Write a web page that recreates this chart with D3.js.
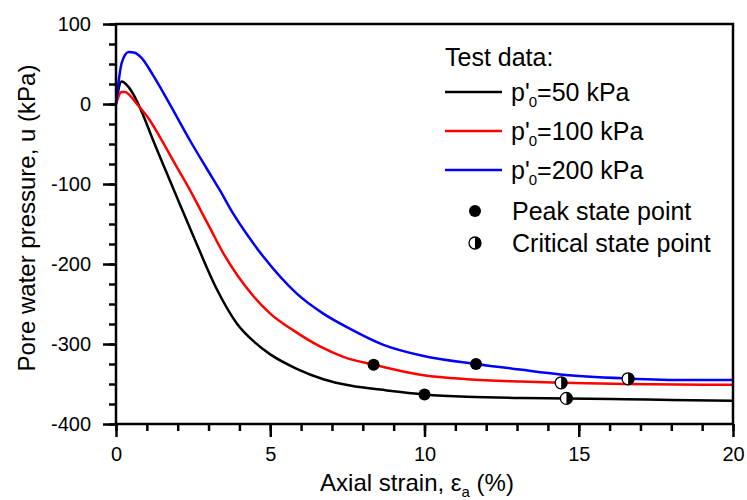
<!DOCTYPE html>
<html><head><meta charset="utf-8">
<script src="https://cdn.jsdelivr.net/npm/d3@7"></script>
<style>body{margin:0;background:#fff}svg{display:block;font-family:Arial,"Liberation Sans",sans-serif}</style>
</head><body><svg id="c" width="747" height="500"></svg>
<script>
const seriesNames = ["50", "100", "200"];
const seriesColors = ["#000000", "#ff0000", "#0000ff"];
const strain50 = [0,0.18,0.39,0.66,0.88,1.2,1.74,2.1,2.55,3.26,3.91,4.5,5.0,5.86,6.72,7.59,8.78,10.0,11.38,13.1,14.6,16.5,18,20];
const pwp50 = [0,28,22,5,-14,-45,-95,-128,-169,-231,-274,-298,-313,-331,-344,-352,-358,-363,-366,-367.5,-368,-369,-370,-371];
const strain100 = [0,0.18,0.3,0.44,0.66,1.09,1.42,1.96,2.39,2.72,3.1,3.47,3.95,4.45,5.0,5.75,6.61,7.37,8.35,9.97,11.38,13.1,14.43,16.5,20];
const pwp100 = [0,15,15,11,1,-20,-41,-78,-107,-131,-159,-186,-215,-240,-262,-283,-303,-316,-326,-339,-344,-347,-348.5,-350,-351];
const strain200 = [0,0.19,0.41,0.61,0.82,1.2,1.55,1.9,2.39,2.93,3.37,3.8,4.3,4.8,5.86,6.72,7.59,8.67,9.97,11.67,13.1,14.4,16.6,18.5,20];
const pwp200 = [0,52,65,64,58,36,13,-11,-45,-80,-108,-137,-166,-192,-237,-262,-281,-301,-315,-325,-332,-338,-343,-345,-345];
const peakStrain = [10.0, 8.35, 11.67];
const peakPwp = [-363, -326, -325];
const critStrain = [14.6, 14.43, 16.6];
const critPwp = [-368, -348.5, -343.5];
const xTicks = [0,5,10,15,20];
const yTicks = [100,0,-100,-200,-300,-400];

const svg = d3.select("#c");
const L=116, R=733, T=24, B=424;
const x = d3.scaleLinear().domain([0,20]).range([L,R]);
const y = d3.scaleLinear().domain([-400,100]).range([B,T]);

const series = [[strain50,pwp50],[strain100,pwp100],[strain200,pwp200]];
const line = d3.line().x(d=>x(d[0])).y(d=>y(d[1])).curve(d3.curveMonotoneX);
series.forEach((s,i)=>{
  const pts = s[0].map((v,j)=>[v,s[1][j]]);
  svg.append("path").attr("d",line(pts)).attr("fill","none")
    .attr("stroke",seriesColors[i]).attr("stroke-width",2.5).attr("stroke-linejoin","round");
});

function critMarker(g,cx,cy,r){
  g.append("circle").attr("cx",cx).attr("cy",cy).attr("r",r).attr("fill","#fff").attr("stroke","#000").attr("stroke-width",1.3);
  g.append("path").attr("d",`M${cx},${cy-r} A${r},${r} 0 0 1 ${cx},${cy+r} Z`).attr("fill","#000");
}
peakStrain.forEach((v,i)=>{
  svg.append("circle").attr("cx",x(v)).attr("cy",y(peakPwp[i])).attr("r",6).attr("fill","#000");
});
critStrain.forEach((v,i)=>{ critMarker(svg,x(v),y(critPwp[i]),6); });

// frame
svg.append("rect").attr("x",L).attr("y",T).attr("width",R-L).attr("height",B-T)
  .attr("fill","none").attr("stroke","#000").attr("stroke-width",2.5);

const fmt = d => String(d);
// x axis
const xa = svg.append("g").attr("transform",`translate(0,${B})`)
  .call(d3.axisBottom(x).tickValues(d3.range(0,21,1)).tickSize(7).tickFormat(""));
xa.select(".domain").remove();
xa.selectAll("line").attr("stroke","#000").attr("stroke-width",2.5);
const xb = svg.append("g").attr("transform",`translate(0,${B})`)
  .call(d3.axisBottom(x).tickValues(xTicks).tickSize(13).tickPadding(10).tickFormat(fmt));
xb.select(".domain").remove();
xb.selectAll("line").attr("stroke","#000").attr("stroke-width",2.5);
xb.selectAll("text").attr("font-size",20).attr("fill","#000").attr("font-family","Arial, 'Liberation Sans', sans-serif");

// y axis
const ya = svg.append("g").attr("transform",`translate(${L},0)`)
  .call(d3.axisLeft(y).tickValues(d3.range(-400,101,25)).tickSize(7).tickFormat(""));
ya.select(".domain").remove();
ya.selectAll("line").attr("stroke","#000").attr("stroke-width",2.5);
const yb = svg.append("g").attr("transform",`translate(${L},0)`)
  .call(d3.axisLeft(y).tickValues(yTicks).tickSize(13).tickPadding(12).tickFormat(fmt));
yb.select(".domain").remove();
yb.selectAll("line").attr("stroke","#000").attr("stroke-width",2.5);
yb.selectAll("text").attr("font-size",20).attr("fill","#000").attr("font-family","Arial, 'Liberation Sans', sans-serif");

// axis titles
const xt = svg.append("text").attr("x",417).attr("y",491).attr("text-anchor","middle").attr("font-size",24);
xt.append("tspan").text("Axial strain, ε");
xt.append("tspan").attr("font-size",15).attr("dy",6).text("a");
xt.append("tspan").attr("dy",-6).text(" (%)");
svg.append("text").attr("transform","translate(35,218) rotate(-90)").attr("text-anchor","middle")
  .attr("font-size",24).text("Pore water pressure, u (kPa)");

// legend
const lg = svg.append("g");
lg.append("text").attr("x",445).attr("y",66).attr("font-size",25).text("Test data:");
const ly = [92,131,170];
seriesNames.forEach((n,i)=>{
  lg.append("line").attr("x1",445).attr("x2",502).attr("y1",ly[i]).attr("y2",ly[i])
    .attr("stroke",seriesColors[i]).attr("stroke-width",2.5);
  const t = lg.append("text").attr("x",511).attr("y",ly[i]+9).attr("font-size",25);
  t.append("tspan").text("p'");
  t.append("tspan").attr("font-size",15).attr("dy",6).attr("dx",-1).text("0");
  t.append("tspan").attr("dy",-6).text("="+n+" kPa");
});
lg.append("circle").attr("cx",475).attr("cy",211).attr("r",6).attr("fill","#000");
lg.append("text").attr("x",512).attr("y",220).attr("font-size",25).text("Peak state point");
critMarker(lg,475,243,6);
lg.append("text").attr("x",512).attr("y",252).attr("font-size",25).text("Critical state point");
</script></body></html>
